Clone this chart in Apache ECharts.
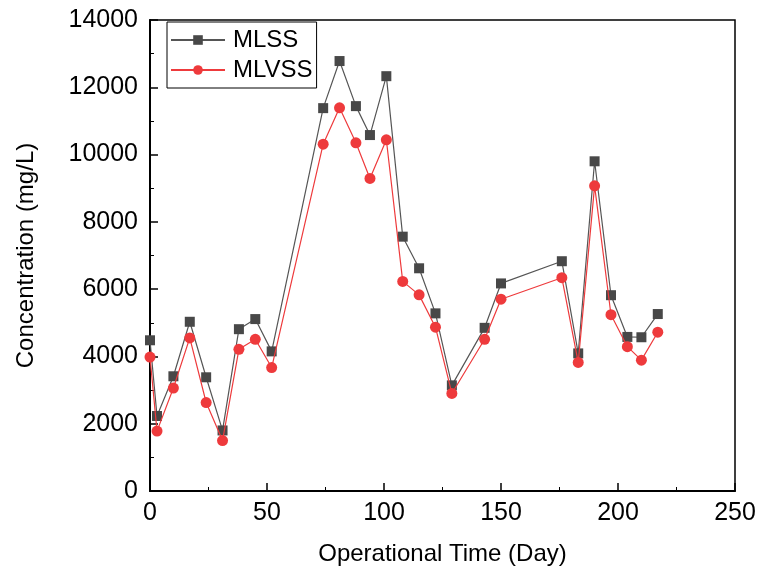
<!DOCTYPE html>
<html><head><meta charset="utf-8">
<script src="https://cdn.jsdelivr.net/npm/echarts@6/dist/echarts.min.js"></script>
<style>html,body{margin:0;padding:0;background:#fff}#c{width:759px;height:573px}</style>
</head><body><div id="c"></div>
<script>
const days = [0, 3, 10, 17, 24, 31, 38, 45, 52, 74, 81, 88, 94, 101, 108, 115, 122, 129, 143, 150, 176, 183, 190, 197, 204, 210, 217];
const mlss = [4480, 2230, 3410, 5030, 3380, 1800, 4810, 5110, 4150, 11380, 12780, 11440, 10580, 12330, 7560, 6620, 5280, 3140, 4850, 6170, 6830, 4090, 9800, 5820, 4580, 4570, 5260];
const mlvss = [3980, 1780, 3060, 4550, 2630, 1500, 4210, 4510, 3670, 10310, 11390, 10350, 9290, 10440, 6230, 5830, 4870, 2900, 4510, 5700, 6340, 3820, 9070, 5240, 4290, 3890, 4720];
const seriesNames = ['MLSS', 'MLVSS'];
const xTitle = 'Operational Time (Day)';
const yTitle = 'Concentration (mg/L)';

const font = 'Liberation Sans, Arial, sans-serif';
const chart = echarts.init(document.getElementById('c'));
const pair = a => days.map((d, i) => [d, a[i]]);
chart.setOption({
  animation: false,
  backgroundColor: '#fff',
  grid: { left: 150, right: 24, top: 20, bottom: 82, show: true, borderColor: '#000', borderWidth: 1.5, backgroundColor: 'transparent' },
  legend: {
    left: 167, top: 22, orient: 'vertical', itemGap: 6, itemWidth: 54, itemHeight: 12,
    padding: [6, 4, 6, 3], borderColor: '#000', borderWidth: 1,
    textStyle: { fontFamily: font, fontSize: 24, color: '#000', padding: [0, 0, 0, 3] },
    data: seriesNames
  },
  xAxis: {
    type: 'value', min: 0, max: 250, interval: 50,
    name: xTitle, nameLocation: 'middle', nameGap: 51,
    nameTextStyle: { fontFamily: font, fontSize: 24, color: '#000' },
    axisLine: { show: true, onZero: false, lineStyle: { color: '#000', width: 2 } },
    axisTick: { inside: true, length: 8, lineStyle: { color: '#000', width: 1.5 } },
    minorTick: { show: true, splitNumber: 2, length: 4, lineStyle: { color: '#000', width: 1 } },
    axisLabel: { fontFamily: font, fontSize: 25, color: '#000', margin: 10, formatter: v => String(v) },
    splitLine: { show: false }
  },
  yAxis: {
    type: 'value', min: 0, max: 14000, interval: 2000,
    name: yTitle, nameLocation: 'middle', nameGap: 112, nameRotate: 90,
    nameTextStyle: { fontFamily: font, fontSize: 24, color: '#000' },
    axisLine: { show: true, onZero: false, lineStyle: { color: '#000', width: 2 } },
    axisTick: { inside: true, length: 8, lineStyle: { color: '#000', width: 1.5 } },
    minorTick: { show: true, splitNumber: 2, length: 4, lineStyle: { color: '#000', width: 1 } },
    axisLabel: { fontFamily: font, fontSize: 25, color: '#000', margin: 12, formatter: v => String(v) },
    splitLine: { show: false }
  },
  series: [
    { name: seriesNames[0], type: 'line', data: pair(mlss), symbol: 'rect', symbolSize: 10,
      itemStyle: { color: '#484848' }, lineStyle: { color: '#555', width: 1.2 }, z: 2 },
    { name: seriesNames[1], type: 'line', data: pair(mlvss), symbol: 'circle', symbolSize: 11,
      itemStyle: { color: '#ee3a3c' }, lineStyle: { color: '#ee3a3c', width: 1.2 }, z: 3 }
  ]
});
</script></body></html>
